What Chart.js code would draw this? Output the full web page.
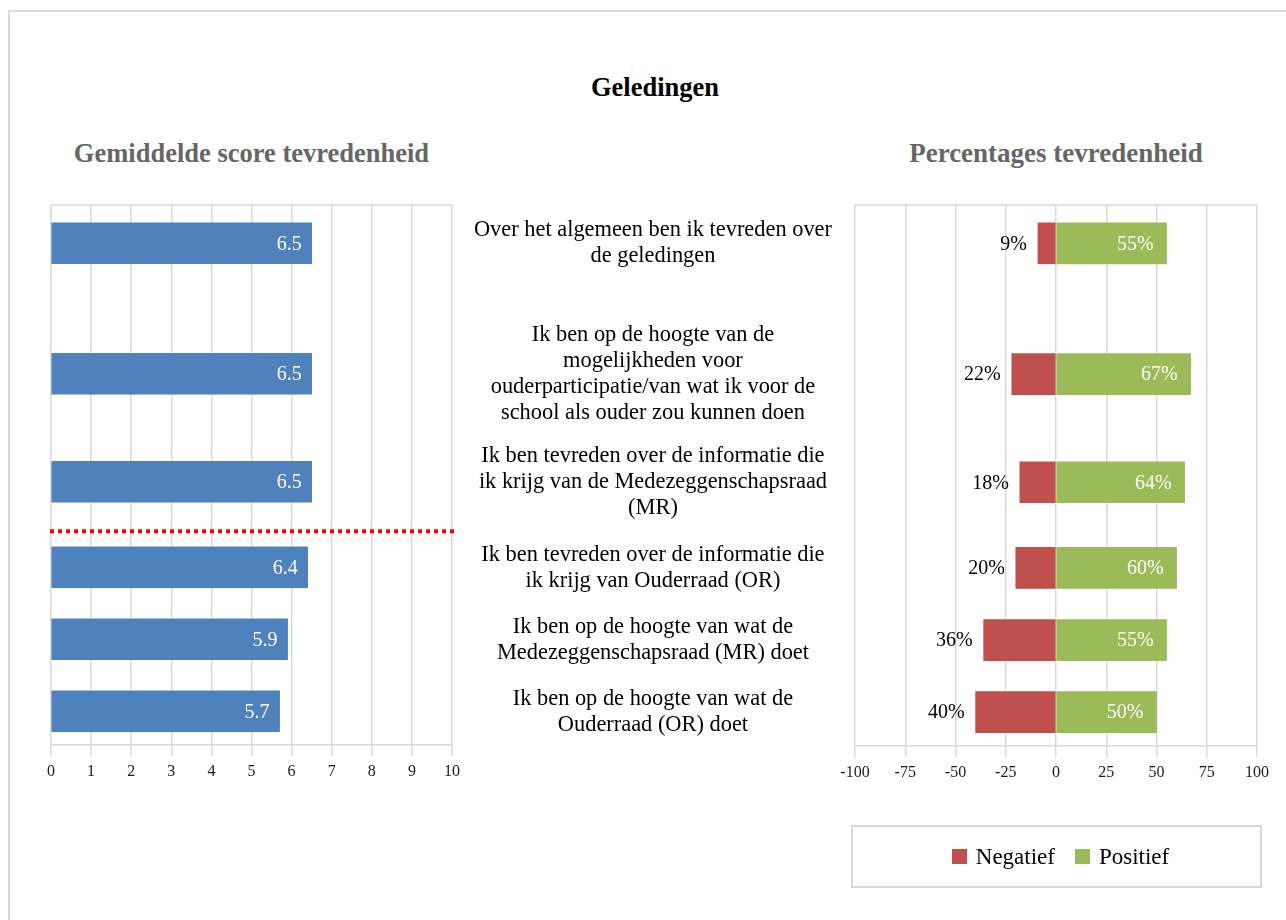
<!DOCTYPE html>
<html>
<head>
<meta charset="utf-8">
<script src="https://cdn.jsdelivr.net/npm/chart.js@4/dist/chart.umd.min.js"></script>
<style>
  body { margin: 0; background: #fff; font-family: "Liberation Serif", "Times New Roman", serif; }
  #wrap { position: relative; width: 1286px; height: 920px; overflow: hidden; }
  #frame { position: absolute; left: 8px; top: 10px; width: 1290px; height: 930px; border: 2px solid #d9d9d9; box-sizing: border-box; }
  canvas { position: absolute; left: 0; top: 0; }
  .ttl { position: absolute; text-align: center; font-weight: bold; white-space: nowrap; }
  #legend { position: absolute; left: 851px; top: 825px; width: 411px; height: 63px; border: 2px solid #d9d9d9; box-sizing: border-box;
            padding-left: 8px; display: flex; align-items: center; justify-content: center; font-size: 23px; color: #000; }
  #legend span.box { display: inline-block; width: 15px; height: 15px; margin-right: 9px; }
  #legend span.item { display: inline-flex; align-items: center; margin: 0 10px; }
</style>
</head>
<body>
<div id="wrap">
  <div id="frame"></div>
  <div class="ttl" style="left:455px;width:400px;top:72px;font-size:26.5px;line-height:30px;color:#000;">Geledingen</div>
  <div class="ttl" style="left:51px;width:401px;top:137px;font-size:26.5px;line-height:32px;color:#666;">Gemiddelde score tevredenheid</div>
  <div class="ttl" style="left:855px;width:402px;top:137px;font-size:27px;line-height:32px;color:#666;">Percentages tevredenheid</div>
  <canvas id="scoreChart" width="1286" height="920"></canvas>
  <canvas id="pctChart" width="1286" height="920"></canvas>
  <div id="legend"></div>
</div>
<script>
// --- data ---
const statements = [
  ['Over het algemeen ben ik tevreden over', 'de geledingen'],
  ['Ik ben op de hoogte van de', 'mogelijkheden voor', 'ouderparticipatie/van wat ik voor de', 'school als ouder zou kunnen doen'],
  ['Ik ben tevreden over de informatie die', 'ik krijg van de Medezeggenschapsraad', '(MR)'],
  ['Ik ben tevreden over de informatie die', 'ik krijg van Ouderraad (OR)'],
  ['Ik ben op de hoogte van wat de', 'Medezeggenschapsraad (MR) doet'],
  ['Ik ben op de hoogte van wat de', 'Ouderraad (OR) doet']
];
const gemiddeldeScore = [6.5, 6.5, 6.5, 6.4, 5.9, 5.7];
const negatief = [9, 22, 18, 20, 36, 40];
const positief = [55, 67, 64, 60, 55, 50];
const seriesNames = ['Negatief', 'Positief'];

// --- layout: rows are not evenly spaced, so the category axis is cut in thin slots ---
const SLOT_COUNT = 120;
const rowSlots = [8, 37, 61, 80, 96, 112];
const separatorSlot = 72;   // red dotted line between row 3 and 4

const FONT = '"Liberation Serif", "Times New Roman", serif';
Chart.defaults.font.family = FONT;
Chart.defaults.color = '#000';

const slotLabels = Array(SLOT_COUNT).fill('');
rowSlots.forEach((s, i) => slotLabels[s] = statements[i]);

function spread(values, fn) {
  const arr = Array(SLOT_COUNT).fill(null);
  rowSlots.forEach((s, i) => arr[s] = fn ? fn(values[i]) : values[i]);
  return arr;
}

const gridColor = '#d9d9d9';

// top border of the plot area
const plotTop = {
  id: 'plotTop',
  beforeDatasetsDraw(chart) {
    const { ctx, chartArea: { left, right, top } } = chart;
    ctx.save();
    ctx.strokeStyle = gridColor;
    ctx.lineWidth = 1.5;
    ctx.beginPath();
    ctx.moveTo(left, top);
    ctx.lineTo(right, top);
    ctx.stroke();
    ctx.restore();
  }
};

// value labels on the bars
const valueLabels = {
  id: 'valueLabels',
  afterDatasetsDraw(chart) {
    const ctx = chart.ctx;
    ctx.save();
    ctx.font = '20px ' + FONT;
    ctx.textAlign = 'right';
    ctx.textBaseline = 'middle';
    chart.data.datasets.forEach((ds, di) => {
      const meta = chart.getDatasetMeta(di);
      meta.data.forEach((bar, i) => {
        const v = ds.data[i];
        if (v == null) return;
        ctx.fillStyle = ds.labelColor;
        const x = ds.labelOutside ? Math.min(bar.x, bar.base) - ds.labelGap : Math.max(bar.x, bar.base) - ds.labelGap;
        ctx.fillText(ds.format(v), x, bar.y + 1);
      });
    });
    ctx.restore();
  }
};

// red dotted separator
const separator = {
  id: 'separator',
  afterDatasetsDraw(chart) {
    const { ctx, chartArea: { left, right } } = chart;
    const y = chart.scales.y.getPixelForValue(separatorSlot);
    ctx.save();
    ctx.strokeStyle = '#ff0000';
    ctx.lineWidth = 4;
    ctx.setLineDash([4, 4]);
    ctx.beginPath();
    ctx.moveTo(left - 1, y);
    ctx.lineTo(right + 2, y);
    ctx.stroke();
    ctx.restore();
  }
};

function valueAxis(min, max, step) {
  return {
    min: min, max: max,
    ticks: { stepSize: step, color: '#1a1a1a', font: { size: 16 }, padding: 6 },
    grid: { color: gridColor, lineWidth: 1.5, tickLength: 11 },
    border: { color: gridColor, width: 1.5 },
    afterFit: s => { s.height = 45; }
  };
}

new Chart(document.getElementById('scoreChart'), {
  type: 'bar',
  data: {
    labels: slotLabels,
    datasets: [{
      label: 'Gemiddelde score',
      data: spread(gemiddeldeScore),
      backgroundColor: '#4f81bd',
      barThickness: 41,
      labelColor: '#fff',
      labelOutside: false,
      labelGap: 10,
      format: v => v.toFixed(1)
    }]
  },
  options: {
    indexAxis: 'y',
    responsive: false,
    animation: false,
    layout: { padding: { left: 51, right: 1286 - 452, top: 205, bottom: 920 - 745 - 45 } },
    plugins: { legend: { display: false }, tooltip: { enabled: false } },
    scales: {
      x: valueAxis(0, 10, 1),
      y: { display: false }
    }
  },
  plugins: [plotTop, valueLabels, separator]
});

const pctChart = new Chart(document.getElementById('pctChart'), {
  type: 'bar',
  data: {
    labels: slotLabels,
    datasets: [{
      label: seriesNames[0],
      data: spread(negatief, v => -v),
      backgroundColor: '#c0504d',
      barThickness: 41,
      labelColor: '#000',
      labelOutside: true,
      labelGap: 11,
      format: v => Math.abs(v) + '%'
    }, {
      label: seriesNames[1],
      data: spread(positief),
      backgroundColor: '#9bbb59',
      barThickness: 41,
      labelColor: '#fff',
      labelOutside: false,
      labelGap: 13,
      format: v => v + '%'
    }]
  },
  options: {
    indexAxis: 'y',
    responsive: false,
    animation: false,
    layout: { padding: { left: 455, right: 1286 - 1257, top: 205, bottom: 920 - 746 - 45 } },
    plugins: { legend: { display: false }, tooltip: { enabled: false } },
    scales: {
      x: Object.assign(valueAxis(-100, 100, 25), { stacked: true }),
      y: {
        stacked: true,
        grid: { display: false, drawTicks: false },
        border: { display: false },
        ticks: { autoSkip: false, crossAlign: 'center', padding: 23, color: '#000', font: { size: 22.4, lineHeight: 1.16 } },
        afterFit: s => { s.width = 400; }
      }
    }
  },
  plugins: [plotTop, valueLabels]
});

// legend in a framed box
const legendEl = document.getElementById('legend');
pctChart.data.datasets.forEach(ds => {
  const item = document.createElement('span');
  item.className = 'item';
  item.innerHTML = `<span class="box" style="background:${ds.backgroundColor}"></span>${ds.label}`;
  legendEl.appendChild(item);
});
</script>
</body>
</html>
